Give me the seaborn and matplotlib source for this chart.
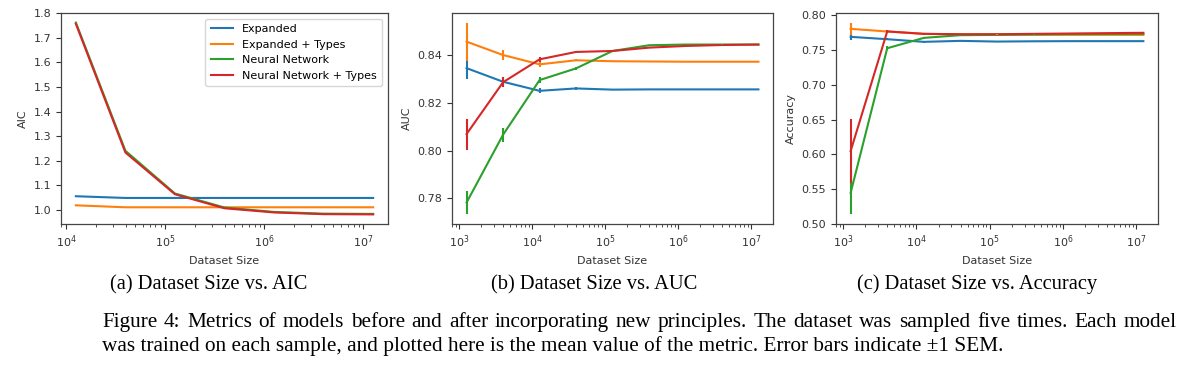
import numpy as np
import pandas as pd
import matplotlib
matplotlib.use("Agg")
import matplotlib.pyplot as plt
import seaborn as sns

models = ["Expanded", "Expanded + Types", "Neural Network", "Neural Network + Types"]
colors = ["#1f77b4", "#ff7f0e", "#2ca02c", "#d62728"]

# dataset sizes
sizes_aic = [12589, 39811, 125893, 398107, 1258925, 3981072, 12589254]
sizes_auc = [1259, 3981, 12589, 39811, 125893, 398107, 1258925, 3981072, 12589254]

# AIC means
aic_exp = [1.055, 1.048, 1.048, 1.048, 1.048, 1.048, 1.048]
aic_exp_t = [1.018, 1.010, 1.010, 1.010, 1.010, 1.010, 1.010]
aic_nn = [1.762, 1.240, 1.066, 1.009, 0.991, 0.984, 0.983]
aic_nn_t = [1.757, 1.233, 1.063, 1.006, 0.989, 0.982, 0.981]

# AUC means and SEM
auc_exp = [0.8346, 0.8289, 0.8251, 0.8261, 0.8256, 0.8257, 0.8257, 0.8257, 0.8257]
auc_exp_sem = [0.0045, 0.0020, 0.0010, 0.0005, 0.0003, 0.0002, 0.0002, 0.0002, 0.0002]
auc_exp_t = [0.8457, 0.8401, 0.8362, 0.8379, 0.8375, 0.8374, 0.8373, 0.8373, 0.8373]
auc_exp_t_sem = [0.0080, 0.0020, 0.0010, 0.0005, 0.0003, 0.0002, 0.0002, 0.0002, 0.0002]
auc_nn = [0.7783, 0.8067, 0.8296, 0.8345, 0.8418, 0.8442, 0.8445, 0.8445, 0.8445]
auc_nn_sem = [0.0050, 0.0030, 0.0012, 0.0005, 0.0003, 0.0002, 0.0002, 0.0002, 0.0002]
auc_nn_t = [0.8070, 0.8287, 0.8383, 0.8414, 0.8418, 0.8432, 0.8439, 0.8443, 0.8445]
auc_nn_t_sem = [0.0065, 0.0020, 0.0010, 0.0005, 0.0003, 0.0002, 0.0002, 0.0002, 0.0002]

# Accuracy means and SEM
acc_exp = [0.7692, 0.7658, 0.7620, 0.7634, 0.7624, 0.7628, 0.7630, 0.7630, 0.7630]
acc_exp_sem = [0.0040, 0.0015, 0.0010, 0.0005, 0.0003, 0.0002, 0.0002, 0.0002, 0.0002]
acc_exp_t = [0.7807, 0.7769, 0.7735, 0.7727, 0.7725, 0.7724, 0.7722, 0.7721, 0.7720]
acc_exp_t_sem = [0.0090, 0.0015, 0.0010, 0.0005, 0.0003, 0.0002, 0.0002, 0.0002, 0.0002]
acc_nn = [0.5447, 0.7528, 0.7677, 0.7716, 0.7720, 0.7725, 0.7730, 0.7733, 0.7735]
acc_nn_sem = [0.0310, 0.0025, 0.0010, 0.0005, 0.0003, 0.0002, 0.0002, 0.0002, 0.0002]
acc_nn_t = [0.6049, 0.7770, 0.7735, 0.7730, 0.7730, 0.7735, 0.7740, 0.7745, 0.7750]
acc_nn_t_sem = [0.0455, 0.0025, 0.0010, 0.0005, 0.0003, 0.0002, 0.0002, 0.0002, 0.0002]

subcaptions = ["(a) Dataset Size vs. AIC", "(b) Dataset Size vs. AUC", "(c) Dataset Size vs. Accuracy"]
caption1 = ("Figure 4: Metrics of models before and after incorporating new principles.  "
            "The dataset was sampled five times.  Each model")
caption2 = ("was trained on each sample, and plotted here is the mean value of the metric. "
            "Error bars indicate \u00b11 SEM.")


def long_df(sizes, series):
    rows = []
    for m, vals in zip(models, series):
        for s, v in zip(sizes, vals):
            rows.append({"size": s, "value": v, "model": m})
    return pd.DataFrame(rows)


df_aic = long_df(sizes_aic, [aic_exp, aic_exp_t, aic_nn, aic_nn_t])
df_auc = long_df(sizes_auc, [auc_exp, auc_exp_t, auc_nn, auc_nn_t])
df_acc = long_df(sizes_auc, [acc_exp, acc_exp_t, acc_nn, acc_nn_t])
auc_sems = [auc_exp_sem, auc_exp_t_sem, auc_nn_sem, auc_nn_t_sem]
acc_sems = [acc_exp_sem, acc_exp_t_sem, acc_nn_sem, acc_nn_t_sem]
auc_means = [auc_exp, auc_exp_t, auc_nn, auc_nn_t]
acc_means = [acc_exp, acc_exp_t, acc_nn, acc_nn_t]

plt.rcParams.update({
    "font.family": "DejaVu Sans",
    "font.size": 8,
    "axes.edgecolor": "#444444",
    "axes.linewidth": 0.9,
    "xtick.color": "#333333",
    "ytick.color": "#333333",
    "axes.labelcolor": "#333333",
    "xtick.labelsize": 8,
    "ytick.labelsize": 8,
    "axes.labelsize": 8,
})

fig = plt.figure(figsize=(12, 3.71), dpi=100)
positions = [
    [61 / 1200, 1 - 224 / 371, (388 - 61) / 1200, (224 - 13) / 371],
    [452 / 1200, 1 - 224 / 371, (773 - 452) / 1200, (224 - 13) / 371],
    [836 / 1200, 1 - 224 / 371, (1158 - 836) / 1200, (224 - 13) / 371],
]
axes = [fig.add_axes(p) for p in positions]
palette = dict(zip(models, colors))

# (a) AIC
ax = axes[0]
sns.lineplot(data=df_aic, x="size", y="value", hue="model", hue_order=models,
             palette=palette, ax=ax, linewidth=1.5, errorbar=None)
ax.set_xscale("log")
ax.set_ylabel("AIC")
ax.set_xlabel("Dataset Size")
ax.set_yticks([1.0, 1.1, 1.2, 1.3, 1.4, 1.5, 1.6, 1.7, 1.8])
leg = ax.legend(loc="upper right", fontsize=8, frameon=True, handlelength=2.0,
                borderpad=0.5, labelspacing=0.5)
leg.get_frame().set_edgecolor("#cccccc")

# (b) AUC and (c) Accuracy
for ax, df, means, sems, ylab in [
    (axes[1], df_auc, auc_means, auc_sems, "AUC"),
    (axes[2], df_acc, acc_means, acc_sems, "Accuracy"),
]:
    sns.lineplot(data=df, x="size", y="value", hue="model", hue_order=models,
                 palette=palette, ax=ax, linewidth=1.5, errorbar=None, legend=False)
    for m, c, mu, se in zip(models, colors, means, sems):
        ax.errorbar(sizes_auc, mu, yerr=se, fmt="none", ecolor=c, elinewidth=1.5, capsize=0)
    ax.set_xscale("log")
    ax.set_ylabel(ylab)
    ax.set_xlabel("Dataset Size")

axes[1].set_yticks([0.78, 0.80, 0.82, 0.84])
axes[1].yaxis.set_major_formatter(matplotlib.ticker.FormatStrFormatter("%.2f"))
axes[2].set_yticks([0.50, 0.55, 0.60, 0.65, 0.70, 0.75, 0.80])
axes[2].yaxis.set_major_formatter(matplotlib.ticker.FormatStrFormatter("%.2f"))

for ax in axes:
    ax.margins(x=0.05, y=0.05)

serif = ["Liberation Serif", "DejaVu Serif"]
centers = [209, 594, 977]
for cx, txt in zip(centers, subcaptions):
    fig.text(cx / 1200, 1 - 289 / 371, txt, ha="center", va="baseline",
             fontsize=14.8, family=serif, color="black")

# caption line 1: justified between x=102 and x=1177
renderer = fig.canvas.get_renderer()
words = caption1.split()
left_px, right_px = 102, 1177
base1 = 1 - 327 / 371
tmp = [fig.text(0, base1, w, fontsize=15.3, family=serif, va="baseline") for w in words]
widths = [t.get_window_extent(renderer).width for t in tmp]
for t in tmp:
    t.remove()
gap = (right_px - left_px - sum(widths)) / (len(words) - 1)
x = left_px
for w, wd in zip(words, widths):
    fig.text(x / 1200, base1, w, ha="left", va="baseline",
             fontsize=15.3, family=serif, color="black")
    x += wd + gap

fig.text(102 / 1200, 1 - 351 / 371, caption2, ha="left", va="baseline",
         fontsize=15.3, family=serif, color="black")

fig.savefig("out.png", dpi=100, facecolor="white")
